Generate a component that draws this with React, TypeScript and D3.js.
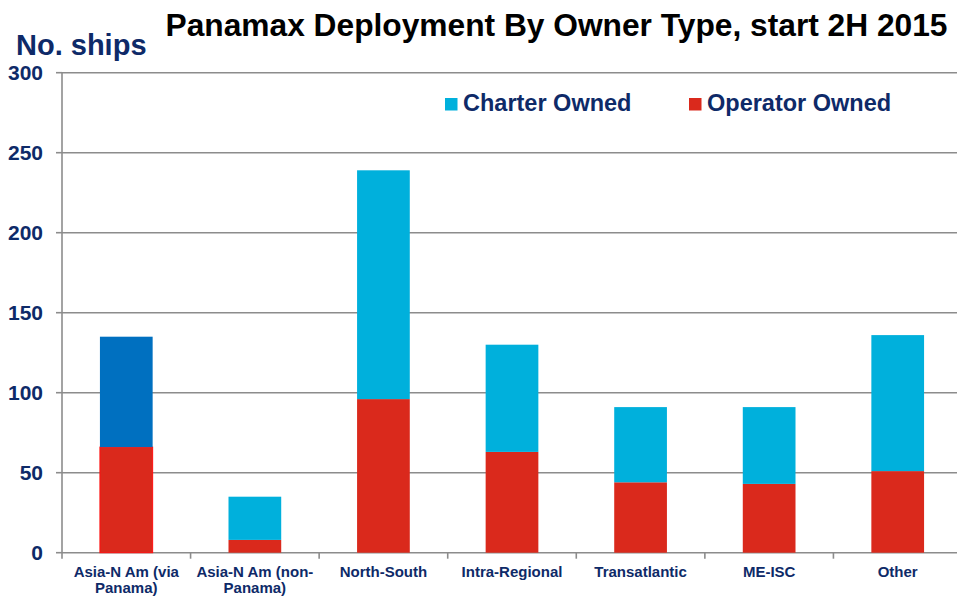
import React from "react";
import * as d3 from "d3";

const categories = [
  "Asia-N Am (via Panama)",
  "Asia-N Am (non-Panama)",
  "North-South",
  "Intra-Regional",
  "Transatlantic",
  "ME-ISC",
  "Other",
];
const categoryLines = [
  ["Asia-N Am (via", "Panama)"],
  ["Asia-N Am (non-", "Panama)"],
  ["North-South"],
  ["Intra-Regional"],
  ["Transatlantic"],
  ["ME-ISC"],
  ["Other"],
];
const operatorOwned = [66, 8, 96, 63, 44, 43, 51];
const charterOwned = [69, 27, 143, 67, 47, 48, 85];
const yTicks = [0, 50, 100, 150, 200, 250, 300];
const seriesNames = ["Charter Owned", "Operator Owned"];

const W = 957;
const H = 597;
const NAVY = "#0E2A68";
const CYAN = "#00B0DC";
const DARKBLUE = "#0070C0";
const RED = "#DA291C";
const GRID = "#8C8C8C";
const FONT = "'Liberation Sans', Arial, sans-serif";

export default function App() {
  const left = 62;
  const right = 962;
  const x = d3.scaleBand<string>().domain(categories).range([left, right]).padding(0);
  const y = d3.scaleLinear().domain([0, 300]).range([552.7, 72.7]);
  const barW = x.bandwidth() * 0.41;

  const rows = categories.map((c, i) => ({
    cat: c,
    operator: operatorOwned[i],
    charter: charterOwned[i],
  }));
  const stack = d3.stack<any>().keys(["operator", "charter"]);
  const layers = stack(rows);

  const y0 = y(0);

  return (
    <svg
      width={W}
      height={H}
      style={{ position: "absolute", left: 0, top: 0, background: "#fff" }}
      fontFamily={FONT}
    >
      {/* gridlines */}
      {yTicks.map((t) => (
        <g key={t}>
          <line x1={left} x2={W} y1={y(t)} y2={y(t)} stroke={GRID} strokeWidth={1.6} />
          <line x1={left - 6} x2={left} y1={y(t)} y2={y(t)} stroke={GRID} strokeWidth={1.6} />
          <text
            x={43}
            y={y(t)}
            dy="0.36em"
            textAnchor="end"
            fontSize={21}
            fontWeight="bold"
            fill={NAVY}
          >
            {t}
          </text>
        </g>
      ))}
      {/* y axis */}
      <line x1={left} x2={left} y1={y(300)} y2={y0 + 6} stroke={GRID} strokeWidth={1.6} />
      {/* x ticks */}
      {categories.map((c, i) => (
        <line
          key={c}
          x1={(x(c) as number) + x.bandwidth()}
          x2={(x(c) as number) + x.bandwidth()}
          y1={y0}
          y2={y0 + 6}
          stroke={GRID}
          strokeWidth={1.6}
        />
      ))}
      {/* bars */}
      {layers.map((layer) =>
        layer.map((d, i) => {
          const cx = (x(categories[i]) as number) + x.bandwidth() / 2;
          const isCharter = layer.key === "charter";
          const fill = isCharter ? (i === 0 ? DARKBLUE : CYAN) : RED;
          return (
            <rect
              key={layer.key + i}
              x={cx - barW / 2}
              y={y(d[1])}
              width={barW}
              height={y(d[0]) - y(d[1])}
              fill={fill}
              stroke={!isCharter && i === 0 ? "#FF1010" : "none"}
              strokeWidth={1}
            />
          );
        })
      )}
      {/* x labels */}
      {categories.map((c, i) => {
        const cx = (x(c) as number) + x.bandwidth() / 2;
        return (
          <text
            key={c}
            x={cx}
            y={577}
            textAnchor="middle"
            fontSize={15}
            fontWeight="bold"
            fill={NAVY}
          >
            {categoryLines[i].map((ln, j) => (
              <tspan key={j} x={cx} dy={j === 0 ? 0 : 16}>
                {ln}
              </tspan>
            ))}
          </text>
        );
      })}
      {/* title */}
      <text
        x={165.5}
        y={36}
        fontSize={31}
        fontWeight="bold"
        fill="#000"
        textLength={782}
        lengthAdjust="spacingAndGlyphs"
      >
        Panamax Deployment By Owner Type, start 2H 2015
      </text>
      <text x={16} y={55} fontSize={29} fontWeight="bold" fill={NAVY}>
        No. ships
      </text>
      {/* legend */}
      {seriesNames.map((s, i) => {
        const lx = i === 0 ? 445 : 689;
        return (
          <g key={s}>
            <rect x={lx} y={98} width={12.5} height={12.5} fill={i === 0 ? CYAN : RED} />
            <text x={lx + 18} y={110.5} fontSize={23.5} fontWeight="bold" fill={NAVY}>
              {s}
            </text>
          </g>
        );
      })}
    </svg>
  );
}
